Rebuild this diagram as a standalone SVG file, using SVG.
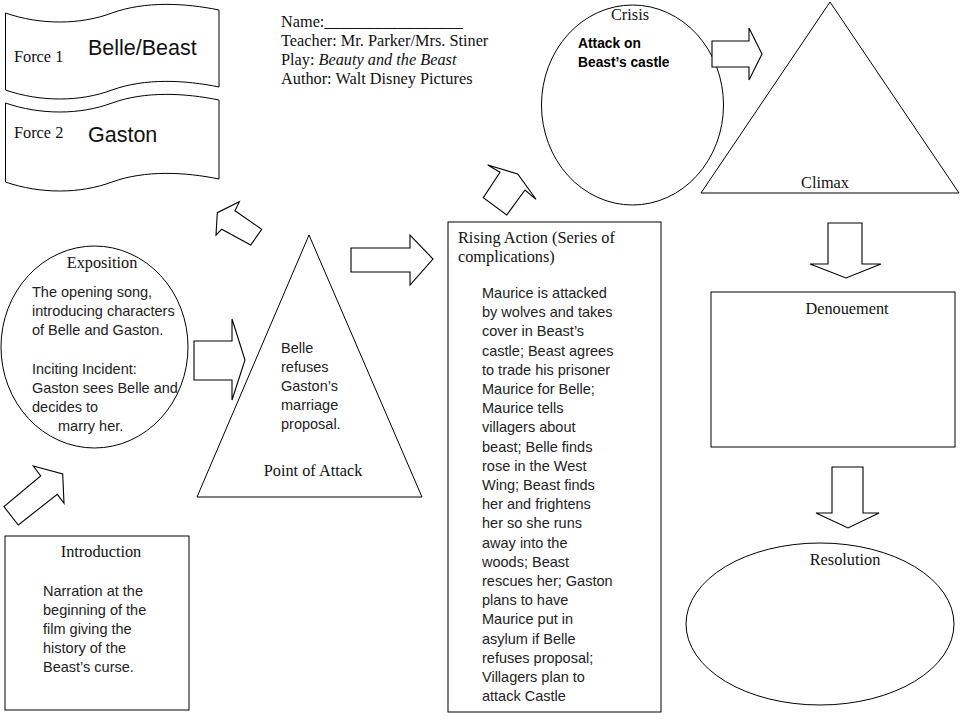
<svg xmlns="http://www.w3.org/2000/svg" width="960" height="720" viewBox="0 0 960 720">
<style>
.sh{fill:#fff;stroke:#000;stroke-width:1}
.arrow{fill:#fff;stroke:#000;stroke-width:1.1;stroke-linejoin:miter}
.ser{font-family:"Liberation Serif","Times New Roman",serif;font-size:16.3px;fill:#111}
.sans{font-family:"Liberation Sans",Arial,sans-serif;font-size:14.5px;fill:#222}
.big{font-family:"Liberation Sans",Arial,sans-serif;font-size:21.5px;fill:#111}
.bold{font-family:"Liberation Sans",Arial,sans-serif;font-size:13.8px;font-weight:bold;fill:#000}
.mid{text-anchor:middle}
</style>
<rect width="960" height="720" fill="#fff"/>

<g id="force1">
<path class="sh" d="M5.5,13 C40,25 80,25 112,13 C145,1 185,3 219,10 L219,87 C185,80 145,78 112,90 C80,102 40,102 5.5,90 Z"/>
<text class="ser" x="14" y="62">Force 1</text>
<text class="big" x="88" y="55">Belle/Beast</text>
</g>

<g id="force2">
<path class="sh" d="M5.5,103 C40,115 80,115 112,103 C145,91 185,93 219,100 L219,179 C185,172 145,170 112,182 C80,194 40,194 5.5,182 Z"/>
<text class="ser" x="14" y="138">Force 2</text>
<text class="big" x="88" y="142">Gaston</text>
</g>

<g id="header">
<text class="ser" x="281" y="27">Name:_________________</text>
<text class="ser" x="281" y="46">Teacher: Mr. Parker/Mrs. Stiner</text>
<text class="ser" x="281" y="65">Play: <tspan font-style="italic">Beauty and the Beast</tspan></text>
<text class="ser" x="281" y="84">Author: Walt Disney Pictures</text>
</g>

<g id="crisis">
<ellipse class="sh" cx="632.5" cy="105" rx="91" ry="100"/>
<text class="ser mid" x="630" y="20">Crisis</text>
<text class="bold" x="578" y="48">Attack on</text>
<text class="bold" x="578" y="67">Beast’s castle</text>
</g>

<g id="climax">
<polygon class="sh" points="830,2 959,193 701,193"/>
<text class="ser mid" x="825" y="188">Climax</text>
</g>

<g id="exposition">
<ellipse class="sh" cx="94.5" cy="347" rx="93.5" ry="101"/>
<text class="ser mid" x="102" y="268">Exposition</text>
<text class="sans" x="32" y="297">The opening song,</text>
<text class="sans" x="32" y="316">introducing characters</text>
<text class="sans" x="32" y="335">of Belle and Gaston.</text>
<text class="sans" x="32" y="374">Inciting Incident:</text>
<text class="sans" x="32" y="393">Gaston sees Belle and</text>
<text class="sans" x="32" y="412">decides to</text>
<text class="sans" x="58" y="431">marry her.</text>
</g>

<g id="point-of-attack">
<polygon class="sh" points="309,235 422,497 197,497"/>
<text class="sans" x="281" y="353">Belle</text>
<text class="sans" x="281" y="372">refuses</text>
<text class="sans" x="281" y="391">Gaston’s</text>
<text class="sans" x="281" y="410">marriage</text>
<text class="sans" x="281" y="429">proposal.</text>
<text class="ser mid" x="313" y="476">Point of Attack</text>
</g>

<g id="rising-action">
<rect class="sh" x="448" y="222" width="213" height="490"/>
<text class="ser" x="458" y="243">Rising Action (Series of</text>
<text class="ser" x="458" y="262">complications)</text>
<text class="sans" x="482" y="298">Maurice is attacked</text>
<text class="sans" x="482" y="317.2">by wolves and takes</text>
<text class="sans" x="482" y="336.4">cover in Beast’s</text>
<text class="sans" x="482" y="355.6">castle; Beast agrees</text>
<text class="sans" x="482" y="374.8">to trade his prisoner</text>
<text class="sans" x="482" y="394">Maurice for Belle;</text>
<text class="sans" x="482" y="413.2">Maurice tells</text>
<text class="sans" x="482" y="432.4">villagers about</text>
<text class="sans" x="482" y="451.6">beast; Belle finds</text>
<text class="sans" x="482" y="470.8">rose in the West</text>
<text class="sans" x="482" y="490">Wing; Beast finds</text>
<text class="sans" x="482" y="509.2">her and frightens</text>
<text class="sans" x="482" y="528.4">her so she runs</text>
<text class="sans" x="482" y="547.6">away into the</text>
<text class="sans" x="482" y="566.8">woods;  Beast</text>
<text class="sans" x="482" y="586">rescues her; Gaston</text>
<text class="sans" x="482" y="605.2">plans to have</text>
<text class="sans" x="482" y="624.4">Maurice put in</text>
<text class="sans" x="482" y="643.6">asylum if Belle</text>
<text class="sans" x="482" y="662.8">refuses proposal;</text>
<text class="sans" x="482" y="682">Villagers plan to</text>
<text class="sans" x="482" y="701">attack Castle</text>
</g>

<g id="introduction">
<rect class="sh" x="5" y="536" width="184" height="174"/>
<text class="ser mid" x="101" y="557">Introduction</text>
<text class="sans" x="43" y="596">Narration at the</text>
<text class="sans" x="43" y="615">beginning of the</text>
<text class="sans" x="43" y="634">film giving the</text>
<text class="sans" x="43" y="653">history of the</text>
<text class="sans" x="43" y="672">Beast’s curse.</text>
</g>

<g id="denouement">
<rect class="sh" x="711" y="292" width="244" height="155"/>
<text class="ser mid" x="847" y="314">Denouement</text>
</g>

<g id="resolution">
<ellipse class="sh" cx="820" cy="624" rx="134" ry="81"/>
<text class="ser mid" x="845" y="565">Resolution</text>
</g>

<g id="connectors">
<polygon class="arrow" points="33.3,466 62.7,474 64,503.3 57.3,494.3 18.3,525 4,506.7 40.7,476"/>
<polygon class="arrow" points="194,341 232,341 232,319 245,360 232,400 232,380 194,380"/>
<polygon class="arrow" points="239.3,201.7 235,210.7 261.7,229.3 250.7,245 221.7,229.3 216,235 217.3,212.7"/>
<polygon class="arrow" points="351,248 410,248 410,235 433,259 410,285 410,272 351,272"/>
<polygon class="arrow" points="487.7,165 517.7,174 536,199.3 525,190 506.7,215 483.3,197.7 500,172.3"/>
<polygon class="arrow" points="712,41 749,41 749,28 762,54 749,80 749,67 712,67"/>
<polygon class="arrow" points="828,223 862,223 862,264 881,264 846,278 810,264 828,264"/>
<polygon class="arrow" points="832,467 863,467 863,513 879,513 848,528 816,513 832,513"/>
</g>
</svg>
